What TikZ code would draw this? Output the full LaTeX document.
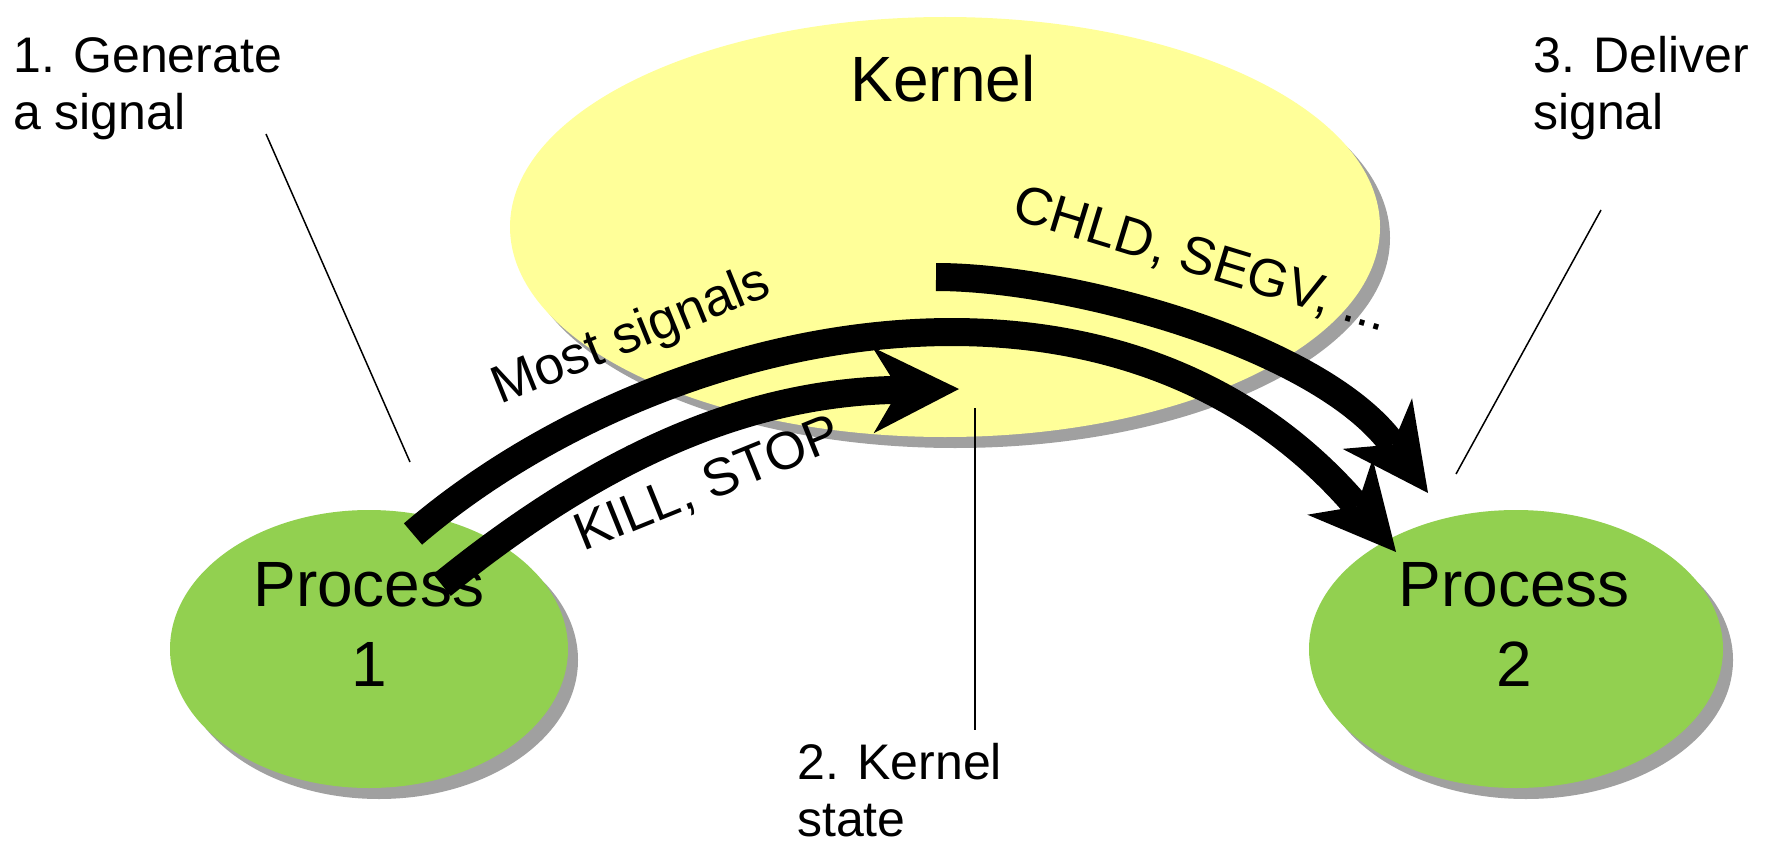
\documentclass[tikz,border=0pt]{standalone}
\usepackage{fontspec}
\setmainfont{Liberation Sans}
\usetikzlibrary{shapes.geometric,arrows.meta,shadows}
\definecolor{kyellow}{HTML}{FFFF99}
\definecolor{pgreen}{HTML}{92D050}
\definecolor{shgray}{HTML}{A0A0A0}
\begin{document}
\begin{tikzpicture}[x=1pt,y=-1pt,
  blob/.style={ellipse, inner sep=0pt, draw=none,
    drop shadow={shadow xshift=10pt, shadow yshift=-11pt, fill=shgray, opacity=1}},
  big/.style={font=\fontsize{64pt}{80pt}\selectfont, inner sep=0pt},
  lab/.style={font=\fontsize{50pt}{57pt}\selectfont, inner sep=0pt},
  alab/.style={font=\fontsize{53pt}{60pt}\selectfont, inner sep=0pt},
  sig/.style={line width=28pt, -{Stealth[length=86pt,width=86pt,inset=26pt,line width=0pt]}},
  leader/.style={line width=1.5pt}
]
\fill[white] (0,0) rectangle (1777,848);
\useasboundingbox (0,0) rectangle (1777,848);
% shapes
\node[blob, fill=kyellow, minimum width=870pt, minimum height=420pt] (kernel) at (945,227) {};
\node[blob, fill=pgreen, minimum width=398pt, minimum height=278pt] (p1) at (369,649) {};
\node[blob, fill=pgreen, minimum width=414pt, minimum height=278pt] (p2) at (1516,649) {};
% texts in shapes (anchor base = last line)
\node[big, anchor=base] (klab) at (943,102) {Kernel};
\node[big, anchor=base, align=center] (p1t) at (369,686) {Process\\1};
\node[big, anchor=base, align=center] (p2t) at (1514,686) {Process\\2};
% step labels (anchor base = last line)
\node[lab, anchor=base west, align=left] (gen) at (13,130) {1. Generate\\a signal};
\node[lab, anchor=base west, align=left] (del) at (1533,130) {3. Deliver\\signal};
\node[lab, anchor=base west, align=left] (kst) at (797,836) {2. Kernel\\state};
% leader lines
\coordinate (l1a) at (266,134); \coordinate (l1b) at (410,462);
\coordinate (l2a) at (975,408); \coordinate (l2b) at (975,730);
\coordinate (l3a) at (1601,210); \coordinate (l3b) at (1456,474);
\draw[leader] (l1a) -- (l1b);
\draw[leader] (l2a) -- (l2b);
\draw[leader] (l3a) -- (l3b);
% signal arrows
\coordinate (a1s) at (413,534); \coordinate (a1e) at (1396,552);
\coordinate (a2s) at (442,585); \coordinate (a2e) at (959,389);
\coordinate (a3s) at (936,277); \coordinate (a3e) at (1428,493);
\draw[sig] (a1s) .. controls (657,325) and (1113,222) .. (a1e);
\draw[sig] (a2s) .. controls (600,457) and (747,392) .. (a2e);
\draw[sig] (a3s) .. controls (1070,277) and (1320,345) .. (a3e);
% arrow labels
\node[alab, anchor=base west, rotate=22] (most) at (500,405) {Most signals};
\node[alab, anchor=base west, rotate=22] (kill) at (583,552) {KILL, STOP};
\node[alab, anchor=base west, rotate=-17] (chld) at (1010,218) {CHLD, SEGV, ...};
\end{tikzpicture}
\end{document}
